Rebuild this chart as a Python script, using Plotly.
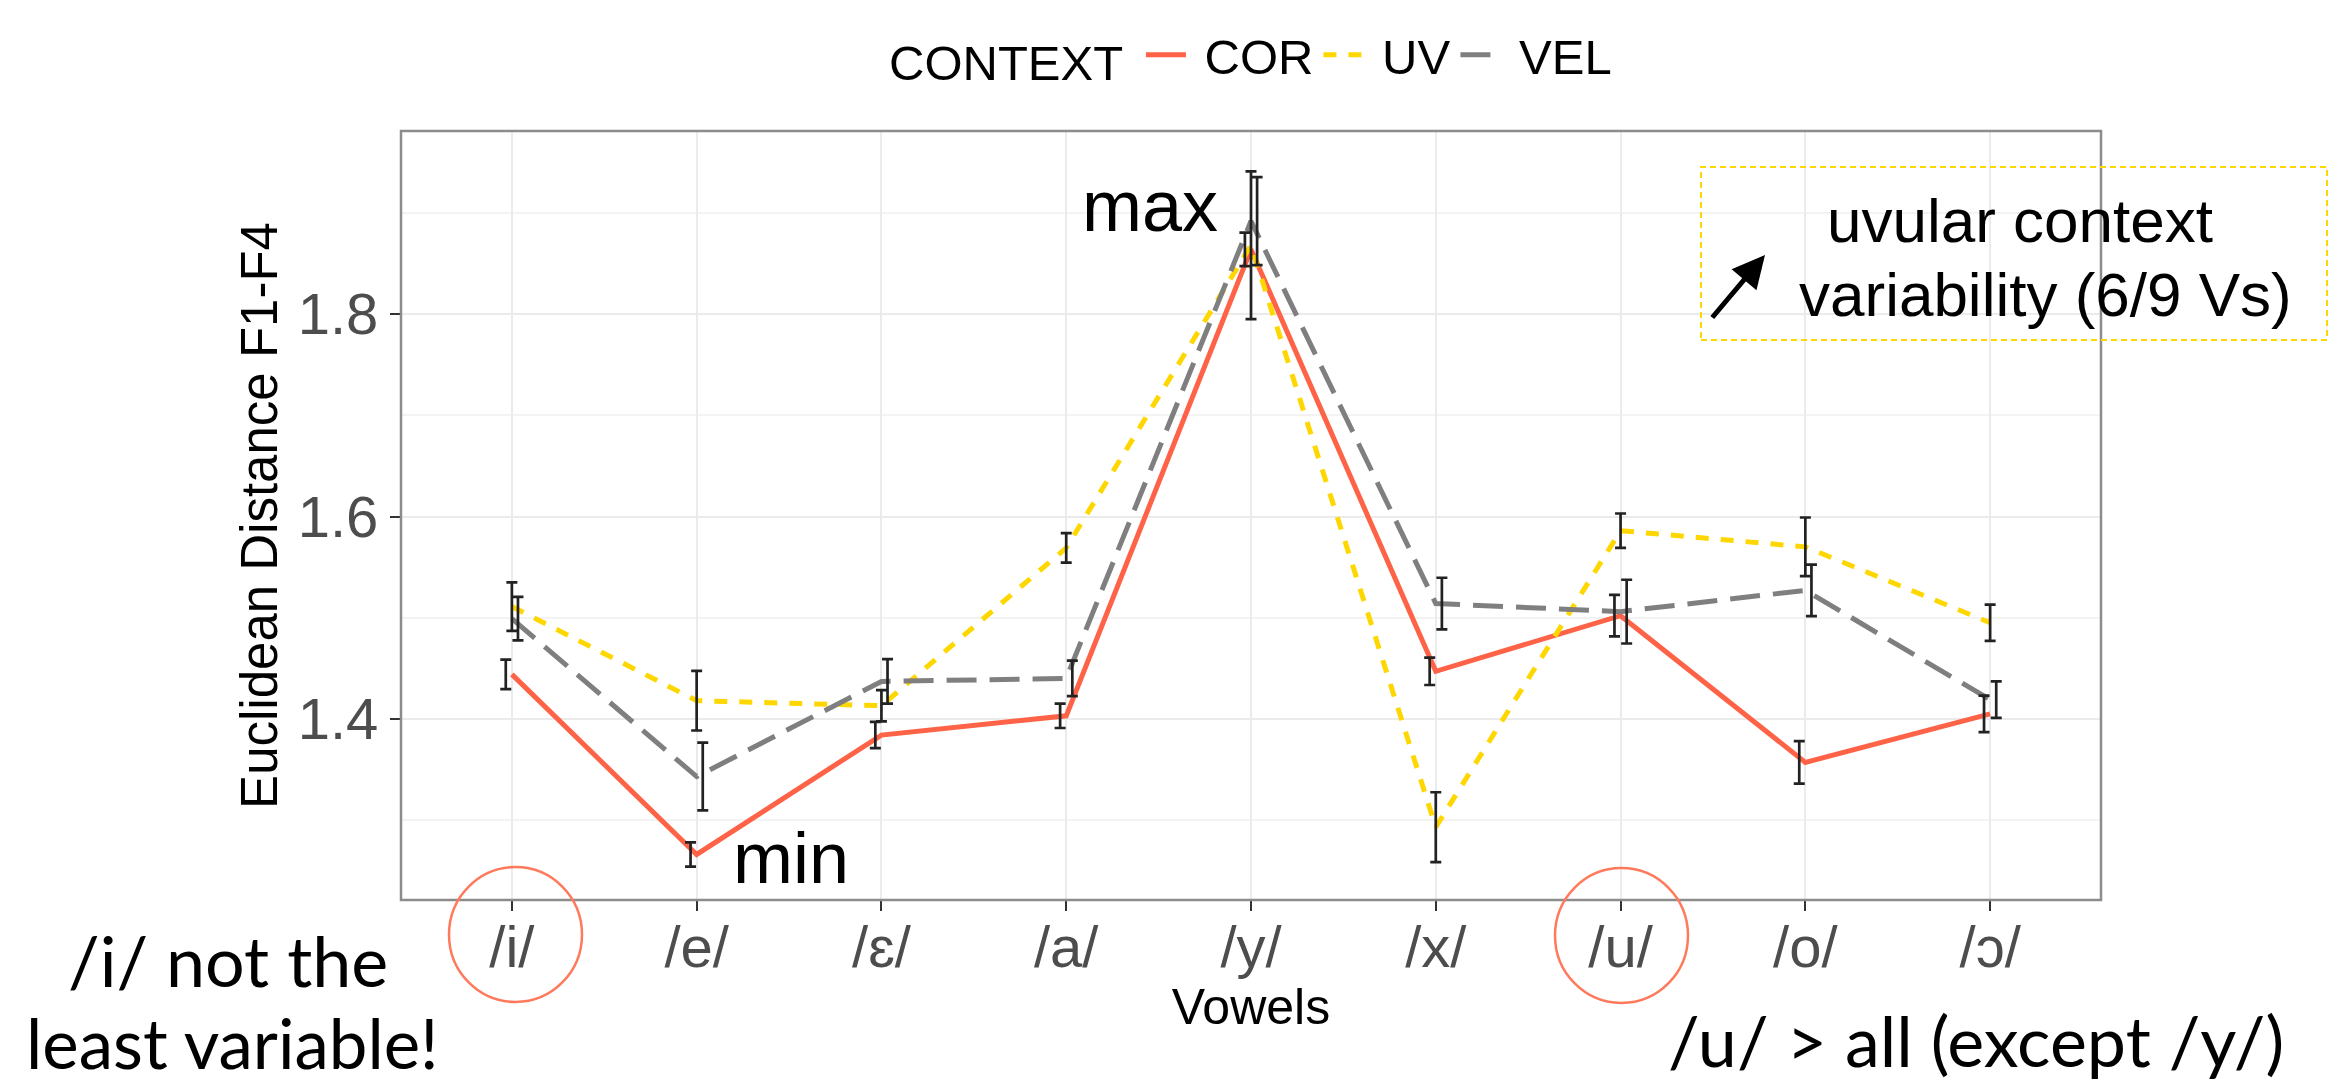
import plotly.graph_objects as go

vowels = ["/i/", "/e/", "/ɛ/", "/a/", "/y/", "/x/", "/u/", "/o/", "/ɔ/"]
positions = [1, 2, 3, 4, 5, 6, 7, 8, 9]

cor_mean = [1.444, 1.266, 1.384, 1.403, 1.864, 1.447, 1.502, 1.357, 1.405]
cor_se   = [0.0145, 0.012, 0.013, 0.012, 0.0165, 0.0135, 0.0205, 0.021, 0.018]
uv_mean  = [1.511, 1.418, 1.413, 1.569, 1.868, 1.293, 1.586, 1.570, 1.495]
uv_se    = [0.024, 0.0295, 0.0155, 0.0145, 0.073, 0.0345, 0.017, 0.029, 0.018]
vel_mean = [1.499, 1.343, 1.437, 1.440, 1.892, 1.514, 1.506, 1.527, 1.419]
vel_se   = [0.0215, 0.0335, 0.022, 0.0175, 0.0435, 0.0255, 0.0315, 0.0255, 0.018]

series = [
    ("COR", cor_mean, cor_se, "#FF6347", "solid", -0.033),
    ("UV", uv_mean, uv_se, "#FFD700", "13px,12px", 0.0),
    ("VEL", vel_mean, vel_se, "#7F7F7F", "30px,13px", 0.033),
]

W, H = 2329, 1089
L, R, T, B = 401, 2101, 131, 900
def px(x):
    return (x - L) / (R - L)
def py(y):
    return (B - y) / (B - T)

fig = go.Figure()
for name, m, se, col, dash, off in series:
    fig.add_trace(go.Scatter(
        x=positions, y=m, mode="lines", name="\u00a0" + name,
        line=dict(color=col, width=5, dash=dash),
    ))
for name, m, se, col, dash, off in series:
    fig.add_trace(go.Scatter(
        x=[p + off for p in positions], y=m, mode="markers", showlegend=False,
        marker=dict(size=1, color="rgba(0,0,0,0)"),
        error_y=dict(type="data", array=se, visible=True, color="#222222",
                     thickness=2.7, width=5.5),
        hoverinfo="skip",
    ))

chart_font = "Liberation Sans, Arial, sans-serif"
note_font = "Lato, Carlito, sans-serif"

fig.update_layout(
    width=W, height=H,
    margin=dict(l=L, r=W - R, t=T, b=H - B, pad=0),
    paper_bgcolor="white", plot_bgcolor="white",
    font=dict(family=chart_font, color="black"),
    showlegend=True,
    legend=dict(
        orientation="h", x=px(1252), xanchor="center", y=py(55), yanchor="middle",
        font=dict(size=49, color="black", family=chart_font),
        title=dict(text="CONTEXT\u2009", font=dict(size=49, color="black", family=chart_font)),
        itemwidth=40, tracegroupgap=0, bgcolor="rgba(0,0,0,0)",
    ),
    xaxis=dict(
        range=[0.4, 9.6], tickmode="array", tickvals=positions, ticktext=vowels,
        showgrid=True, gridcolor="#EBEBEB", gridwidth=2,
        ticks="outside", ticklen=10, tickwidth=2, tickcolor="#333333",
        tickfont=dict(size=58, color="#4D4D4D", family=chart_font),
        ticklabelstandoff=-14,
        title=dict(text="Vowels", font=dict(size=50, color="black", family=chart_font), standoff=6),
        zeroline=False, showline=False,
    ),
    yaxis=dict(
        range=[1.221, 1.981], tickmode="array", tickvals=[1.4, 1.6, 1.8],
        ticktext=["1.4", "1.6", "1.8"],
        showgrid=True, gridcolor="#EBEBEB", gridwidth=2,
        minor=dict(tickvals=[1.3, 1.5, 1.7, 1.9], showgrid=True, gridcolor="#F3F3F3", gridwidth=1.5),
        ticks="outside", ticklen=10, tickwidth=2, tickcolor="#333333",
        tickfont=dict(size=58, color="#4D4D4D", family=chart_font),
        title=dict(text="Euclidean Distance F1-F4", font=dict(size=51, color="black", family=chart_font), standoff=3),
        zeroline=False, showline=False,
    ),
)

shapes = [
    dict(type="rect", xref="paper", yref="paper", x0=0, x1=1, y0=0, y1=1,
         line=dict(color="#8C8C8C", width=2.5), fillcolor="rgba(0,0,0,0)", layer="above"),
    dict(type="rect", xref="paper", yref="paper", x0=px(1701), x1=px(2327), y0=py(340), y1=py(167),
         line=dict(color="#FFD700", width=2, dash="6px,4px"), fillcolor="rgba(0,0,0,0)", layer="above"),
    dict(type="circle", xref="paper", yref="paper", x0=px(449), x1=px(582), y0=py(1002), y1=py(867),
         line=dict(color="#FF7A5C", width=2.5)),
    dict(type="circle", xref="paper", yref="paper", x0=px(1555), x1=px(1688), y0=py(1003), y1=py(868),
         line=dict(color="#FF7A5C", width=2.5)),
]
fig.update_layout(shapes=shapes)

def note(text, x, y, size, family, xanchor="center"):
    return dict(text=text, xref="paper", yref="paper", x=px(x), y=py(y), xanchor=xanchor,
                yanchor="middle", showarrow=False, borderpad=0,
                font=dict(size=size, family=family, color="black"))

annotations = [
    note("max", 1150, 206, 72, chart_font),
    note("min", 791, 858, 72, chart_font),
    note("uvular context", 2020, 220, 62, chart_font),
    note("variability (6/9 Vs)", 2045, 294, 62, chart_font),
    note("/i/ not the", 228, 960, 70, note_font),
    note("least variable!", 232, 1042, 69, note_font),
    note("/u/ > all (except /y/)", 1976, 1040, 70, note_font),
    dict(text="", xref="paper", yref="paper", x=px(1765), y=py(255),
         axref="pixel", ayref="pixel", ax=-54, ay=64, showarrow=True,
         arrowhead=2, arrowsize=1.3, arrowwidth=5, arrowcolor="black"),
]
fig.update_layout(annotations=annotations)

fig.write_html("out.html", config={"displayModeBar": False},
               post_script="document.body.style.margin='0px';document.body.style.overflow='hidden';")
